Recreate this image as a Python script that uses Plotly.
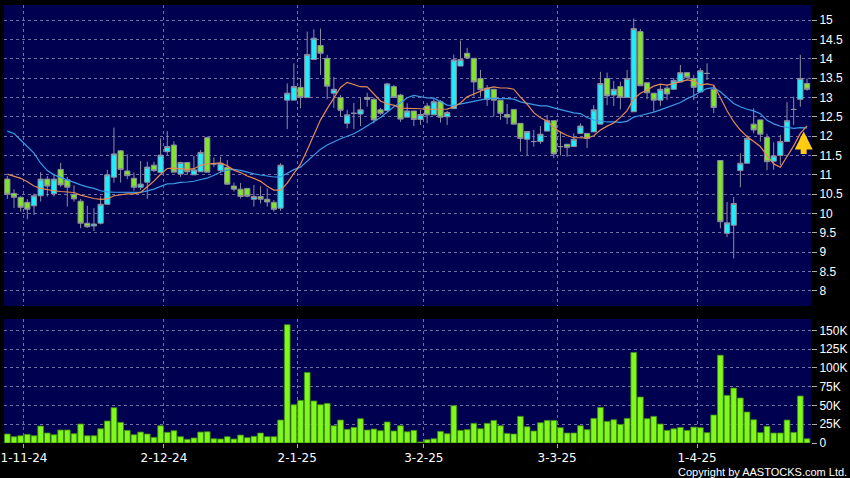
import numpy as np
import pandas as pd
import plotly.graph_objects as go

# ---------------- data ----------------
holidays = ["2024-12-25", "2024-12-26", "2025-01-01", "2025-01-29", "2025-01-30",
            "2025-01-31", "2025-04-04", "2025-04-18", "2025-04-21"]
dates = pd.bdate_range("2024-10-29", "2025-04-28")
dates = dates[~dates.isin(pd.to_datetime(holidays))]

open_ = [10.89, 10.52, 10.42, 10.29, 10.20, 10.46, 10.89, 10.51, 11.14, 10.87,
         10.49, 10.32, 9.75, 9.68, 9.75, 10.24, 10.94, 11.62, 11.10, 10.91,
         10.68, 10.81, 11.25, 11.06, 11.60, 11.77, 11.02, 11.32, 11.00, 11.08,
         11.96, 11.28, 11.11, 11.19, 10.71, 10.63, 10.65, 10.37, 10.44, 10.37,
         10.29, 10.14, 12.93, 12.93, 13.26, 13.00, 13.98, 14.34, 14.01, 13.11,
         13.00, 12.33, 12.59, 12.57, 13.00, 12.95, 12.68, 12.66, 13.28, 13.06,
         12.49, 12.65, 12.43, 12.78, 12.55, 12.89, 12.50, 12.71, 13.81, 14.14,
         14.01, 13.49, 12.95, 13.21, 12.93, 12.56, 12.69, 12.33, 11.92, 11.86,
         11.86, 12.13, 12.40, 11.73, 11.79, 11.73, 12.07, 12.07, 12.11, 12.31,
         13.49, 13.06, 13.28, 13.00, 12.63, 14.70, 13.38, 13.11, 12.93, 13.24,
         13.21, 13.40, 13.64, 13.49, 13.14, 13.62, 13.21, 11.37, 9.49, 9.70,
         11.11, 11.30, 12.31, 12.42, 11.97, 11.35, 11.50, 11.86, 12.69, 12.95,
         13.36]
high = [10.97, 10.63, 10.45, 10.37, 10.52, 11.07, 10.97, 11.01, 11.31, 10.95,
        10.73, 10.38, 10.20, 10.14, 10.44, 11.13, 12.22, 11.64, 11.53, 11.06,
        11.36, 11.34, 11.34, 11.94, 12.13, 11.87, 11.34, 11.33, 11.49, 11.64,
        11.99, 11.45, 11.47, 11.38, 10.80, 10.79, 10.65, 10.74, 10.71, 10.65,
        10.35, 11.30, 13.36, 13.88, 13.49, 14.70, 14.76, 14.78, 14.10, 13.53,
        13.06, 12.68, 12.86, 12.98, 13.12, 13.00, 12.73, 13.38, 13.32, 13.09,
        12.85, 12.65, 12.68, 12.86, 12.98, 12.93, 12.65, 14.11, 14.47, 14.28,
        14.01, 13.71, 13.32, 13.21, 12.93, 12.83, 12.69, 12.33, 12.12, 12.16,
        12.26, 12.55, 12.40, 12.12, 11.80, 12.07, 12.33, 12.07, 12.80, 13.66,
        13.64, 13.43, 13.41, 13.71, 15.04, 14.77, 13.38, 13.11, 13.32, 13.32,
        13.50, 13.84, 13.64, 13.58, 13.76, 13.88, 13.32, 11.37, 10.30, 10.43,
        11.56, 12.03, 12.72, 12.42, 12.06, 11.84, 12.03, 12.88, 13.02, 14.10,
        13.49]
low = [10.38, 10.14, 10.05, 9.85, 9.96, 10.31, 10.44, 10.44, 10.69, 10.18,
       10.31, 9.62, 9.63, 9.55, 9.72, 10.24, 10.80, 10.80, 10.89, 10.59,
       10.61, 10.38, 11.07, 11.06, 11.51, 11.07, 10.95, 11.00, 11.00, 11.08,
       11.07, 11.20, 11.04, 10.74, 10.57, 10.39, 10.42, 10.18, 10.26, 10.18,
       10.05, 10.07, 12.18, 12.93, 12.72, 13.00, 13.98, 13.58, 12.95, 12.73,
       12.50, 12.20, 12.18, 12.26, 12.76, 12.33, 12.55, 12.66, 13.00, 12.37,
       12.49, 12.26, 12.29, 12.33, 12.55, 12.35, 12.29, 12.71, 13.81, 14.02,
       13.02, 13.02, 12.78, 12.50, 12.42, 12.31, 12.31, 11.60, 11.50, 11.73,
       11.80, 12.13, 11.43, 11.50, 11.47, 11.73, 12.07, 11.69, 12.11, 12.31,
       12.80, 12.78, 12.69, 13.00, 12.63, 13.30, 12.95, 12.63, 12.78, 12.93,
       13.21, 13.40, 13.45, 12.93, 13.14, 13.45, 12.59, 9.62, 9.39, 8.84,
       10.68, 11.30, 12.07, 11.86, 11.12, 11.13, 11.25, 11.86, 12.29, 12.76,
       13.17]
close = [10.50, 10.42, 10.16, 10.11, 10.46, 10.89, 10.71, 10.89, 10.74, 10.68,
         10.38, 9.75, 9.66, 9.73, 10.24, 11.00, 11.54, 11.14, 10.98, 10.68,
         10.76, 11.20, 11.11, 11.51, 11.73, 11.07, 11.32, 11.08, 11.13, 11.58,
         11.07, 11.28, 11.30, 10.76, 10.63, 10.44, 10.45, 10.44, 10.37, 10.30,
         10.11, 11.25, 13.11, 13.28, 13.00, 14.11, 14.53, 14.14, 13.29, 13.21,
         12.67, 12.55, 12.59, 12.68, 12.95, 12.42, 12.59, 13.35, 13.00, 12.44,
         12.65, 12.43, 12.56, 12.55, 12.89, 12.49, 12.61, 13.97, 13.98, 14.02,
         13.40, 13.20, 13.24, 12.93, 12.59, 12.49, 12.31, 11.94, 12.12, 11.86,
         12.05, 12.40, 11.54, 11.73, 11.71, 11.92, 12.26, 11.94, 12.68, 13.36,
         13.04, 13.21, 13.00, 13.49, 14.78, 13.30, 13.12, 12.93, 13.21, 13.09,
         13.44, 13.64, 13.52, 13.26, 13.69, 13.62, 12.74, 9.79, 9.76, 10.26,
         11.30, 11.94, 12.16, 12.05, 11.34, 11.49, 11.86, 12.40, 12.69, 13.49,
         13.21]
volume_k = [12, 8.4, 9.7, 11.5, 9.7, 22.6, 13.3, 11, 17.3, 17.3,
            12.4, 25.3, 9.7, 9.7, 19, 29.3, 47, 27.5, 16.8, 11,
            14.6, 12, 7.5, 23, 14.2, 16.4, 8.4, 4.9, 6.7, 14.6,
            15, 5.7, 5.3, 8.4, 5.3, 10.6, 7.1, 8.9, 13.3, 8.4,
            8.4, 30.6, 157.6, 51, 56.8, 94, 56, 51, 52.8, 23,
            30.6, 18.2, 20.8, 32.4, 17.3, 18.6, 16.4, 28, 16, 23,
            15, 16.8, 1.3, 4.4, 5.7, 15.5, 12.4, 49.7, 16.8, 17.8,
            26.2, 19, 26.2, 30.1, 23, 12.8, 12, 35.5, 21.7, 16,
            27, 30.1, 30.1, 20.4, 13.3, 13.3, 23, 17.8, 32.8, 47.4,
            28.8, 31, 24.8, 32.8, 120.7, 61.3, 32.4, 35.5, 25.3, 16.8,
            19, 20.8, 16.8, 21.2, 20.4, 13.8, 37.3, 117, 63.4, 73.2,
            60, 41.3, 31, 13.8, 22.2, 13.3, 13.3, 30.6, 14.2, 62.6,
            5.7]
sma10 = [11.02, 10.97, 10.91, 10.82, 10.71, 10.65, 10.61, 10.59, 10.57, 10.556,
         10.544, 10.477, 10.427, 10.389, 10.367, 10.378, 10.461, 10.486, 10.510, 10.510,
         10.548, 10.693, 10.838, 11.016, 11.165, 11.172, 11.150, 11.144, 11.159, 11.249,
         11.280, 11.288, 11.307, 11.232, 11.122, 11.059, 10.972, 10.908, 10.832, 10.704,
         10.608, 10.605, 10.786, 11.038, 11.275, 11.642, 12.050, 12.420, 12.712, 13.003,
         13.259, 13.389, 13.337, 13.277, 13.272, 13.103, 12.909, 12.830, 12.801, 12.724,
         12.722, 12.710, 12.707, 12.694, 12.688, 12.695, 12.697, 12.759, 12.857, 13.015,
         13.090, 13.167, 13.235, 13.273, 13.243, 13.243, 13.213, 13.010, 12.824, 12.608,
         12.473, 12.393, 12.223, 12.103, 12.015, 11.958, 11.953, 11.953, 12.009, 12.159,
         12.258, 12.339, 12.485, 12.661, 12.968, 13.106, 13.192, 13.291, 13.344, 13.317,
         13.357, 13.400, 13.452, 13.429, 13.320, 13.352, 13.314, 13.000, 12.655, 12.372,
         12.158, 11.988, 11.852, 11.731, 11.496, 11.283, 11.195, 11.456, 11.749, 12.072,
         12.263]
sma20 = [12.13, 12.07, 11.90, 11.73, 11.56, 11.30, 11.11, 11.00, 10.93, 10.87,
         10.80, 10.74, 10.69, 10.65, 10.59, 10.56, 10.55, 10.55, 10.54, 10.533,
         10.546, 10.585, 10.633, 10.703, 10.766, 10.775, 10.806, 10.815, 10.835, 10.880,
         10.914, 10.991, 11.073, 11.124, 11.144, 11.116, 11.061, 11.026, 10.996, 10.977,
         10.944, 10.947, 11.047, 11.135, 11.199, 11.351, 11.511, 11.664, 11.772, 11.854,
         11.934, 11.997, 12.062, 12.158, 12.274, 12.373, 12.480, 12.625, 12.757, 12.864,
         12.991, 13.050, 13.022, 12.986, 12.980, 12.899, 12.803, 12.795, 12.829, 12.870,
         12.906, 12.939, 12.971, 12.984, 12.966, 12.969, 12.955, 12.885, 12.841, 12.812,
         12.782, 12.780, 12.729, 12.688, 12.629, 12.601, 12.583, 12.482, 12.417, 12.384,
         12.366, 12.366, 12.354, 12.382, 12.492, 12.532, 12.573, 12.622, 12.677, 12.738,
         12.808, 12.870, 12.969, 13.045, 13.144, 13.229, 13.253, 13.146, 13.000, 12.845,
         12.758, 12.694, 12.652, 12.580, 12.408, 12.318, 12.255, 12.228, 12.202, 12.222,
         12.211]

price_ticks = [8, 8.5, 9, 9.5, 10, 10.5, 11, 11.5, 12, 12.5, 13, 13.5, 14, 14.5, 15]
volume_ticks = [0, 25, 50, 75, 100, 125, 150]
volume_tick_labels = ["0", "25K", "50K", "75K", "100K", "125K", "150K"]
signal_price = 12.12

# ---------------- derived positions ----------------
x = np.arange(len(dates))
month_start = [i for i in range(1, len(dates)) if dates[i].month != dates[i - 1].month]
month_tickvals = [i - 0.5 for i in month_start]
month_ticktext = [f"{dates[i].day}-{dates[i].month}-{dates[i].year % 100:02d}" for i in month_start]

# ---------------- style ----------------
BG = "#000050"
GRID = "rgba(150,150,195,0.75)"
UP = "#1eeefc"
DOWN = "#80e52a"
WICK = "#8e8e9e"
VOL = "#80f81c"

fig = go.Figure()

fig.add_trace(go.Candlestick(
    x=x, open=open_, high=high, low=low, close=close,
    increasing=dict(fillcolor=UP, line=dict(color=WICK, width=1)),
    decreasing=dict(fillcolor=DOWN, line=dict(color=WICK, width=1)),
    whiskerwidth=0, xaxis="x", yaxis="y", showlegend=False, hoverinfo="skip",
))
fig.add_trace(go.Scatter(x=x, y=sma20, mode="lines", line=dict(color="#3a9be6", width=1.2),
                         xaxis="x", yaxis="y", showlegend=False, hoverinfo="skip"))
fig.add_trace(go.Scatter(x=x, y=sma10, mode="lines", line=dict(color="#e48a55", width=1.2),
                         xaxis="x", yaxis="y", showlegend=False, hoverinfo="skip"))
fig.add_trace(go.Bar(x=x, y=volume_k, marker=dict(color=VOL, line=dict(color="#3f8a10", width=0.8)),
                     xaxis="x2", yaxis="y2", showlegend=False, hoverinfo="skip"))

xr = [-0.5, len(dates) - 0.4]
common_x = dict(range=xr, showgrid=True, gridcolor=GRID, griddash="3px,3px", gridwidth=1,
                tickmode="array", tickvals=month_tickvals, zeroline=False, showline=False,
                fixedrange=True, automargin=False)

fig.update_layout(
    width=850, height=478,
    paper_bgcolor="#000000", plot_bgcolor=BG,
    margin=dict(l=4, r=39, t=5, b=35, autoexpand=False),
    bargap=0.14, boxgap=0.22, boxgroupgap=0,
    xaxis=dict(**common_x, domain=[0, 1], anchor="y", showticklabels=False, ticks="",
               rangeslider=dict(visible=False)),
    xaxis2=dict(**common_x, domain=[0, 1], anchor="y2", ticktext=month_ticktext,
                ticks="outside", ticklen=4, tickcolor="#aaaaaa",
                tickfont=dict(family="DejaVu Sans", size=12, color="#ffffff"),
                ticklabelshift=0, ticklabeloverflow="allow"),
    yaxis=dict(domain=[0.3128, 1], range=[7.6125, 15.3875], side="right",
               tickmode="array", tickvals=price_ticks, ticktext=[f"{v:g}" for v in price_ticks],
               ticks="outside", ticklen=5, tickcolor="#aaaaaa",
               tickfont=dict(family="Liberation Sans", size=12, color="#ffffff"),
               showgrid=True, gridcolor=GRID, griddash="3px,3px", zeroline=False,
               automargin=False, fixedrange=True, ticklabeloverflow="allow"),
    yaxis2=dict(domain=[0, 0.2831], range=[0, 165.2], side="right", anchor="x2",
                tickmode="array", tickvals=volume_ticks, ticktext=volume_tick_labels,
                ticks="outside", ticklen=5, tickcolor="#aaaaaa",
                tickfont=dict(family="Liberation Sans", size=12, color="#ffffff"),
                showgrid=True, gridcolor=GRID, griddash="3px,3px", zeroline=False,
                automargin=False, fixedrange=True, ticklabeloverflow="allow"),
    annotations=[
        dict(x=x[-1] - 0.5, y=signal_price, xref="x", yref="y", text="", showarrow=True,
             ax=0, ay=24, arrowhead=2, arrowsize=0.6, arrowwidth=6, arrowcolor="#ffcc10",
             standoff=0),
        dict(x=1.0475, y=-0.0655, xref="paper", yref="paper", xanchor="right", yanchor="middle",
             text="Copyright by AASTOCKS.com Ltd.", showarrow=False,
             font=dict(family="Liberation Sans", size=11, color="#ffffff")),
    ],
)

fig.write_html("out.html", config={"displayModeBar": False},
               post_script="document.body.style.margin='0px';document.body.style.overflow='hidden';")
